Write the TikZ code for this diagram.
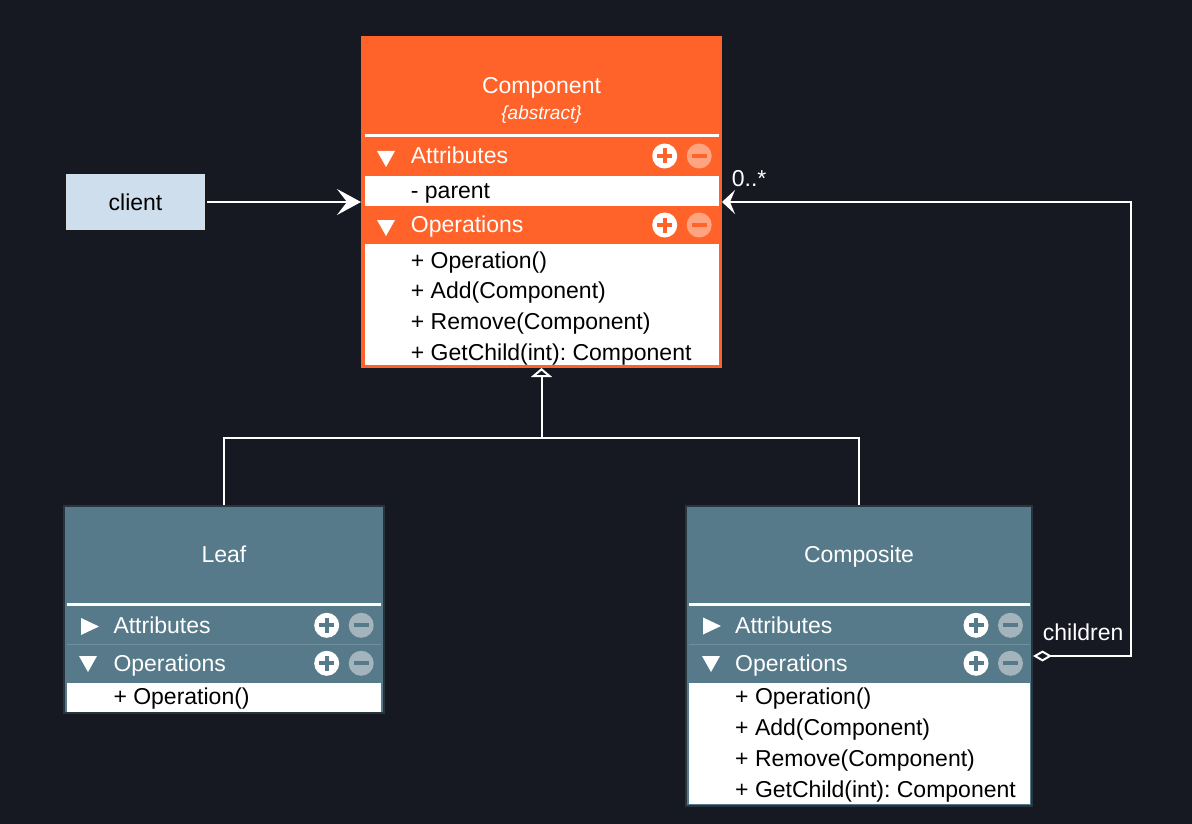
\documentclass[tikz,border=0pt]{standalone}
\usepackage{fontspec}
\setmainfont{Liberation Sans}
\usetikzlibrary{arrows.meta}
\frenchspacing

\definecolor{bgdark}{RGB}{22,25,34}
\definecolor{orangehead}{RGB}{255,99,41}
\definecolor{orangeheadlight}{RGB}{255,164,128}
\definecolor{steel}{RGB}{87,122,138}
\definecolor{steellight}{RGB}{163,180,189}
\definecolor{steelline}{RGB}{112,143,157}
\definecolor{steelborder}{RGB}{40,52,62}
\definecolor{clientblue}{RGB}{207,222,236}

% plus / minus buttons: x, y, colour
\newcommand{\addremove}[3]{%
  \fill[white] (#1,#2) circle (12.5pt);
  \fill[#3] (#1-7.5,#2-2) rectangle (#1+7.5,#2+2);
  \fill[#3] (#1-2,#2-7.5) rectangle (#1+2,#2+7.5);
  \fill[#3light] (#1+34.5,#2) circle (12.5pt);
  \fill[#3] (#1+27,#2-2) rectangle (#1+42,#2+2);
}
% collapse triangles: x, y
\newcommand{\arrowdown}[2]{\fill[white] (#1-9,#2-8) -- (#1+9,#2-8) -- (#1,#2+8) -- cycle;}
\newcommand{\arrowright}[2]{\fill[white] (#1-9,#2-8.5) -- (#1-9,#2+8.5) -- (#1+9,#2) -- cycle;}

\begin{document}
\begin{tikzpicture}[x=1pt, y=-1pt,
    classbox/.style={rectangle, inner sep=0pt, line width=2pt},
    headtext/.style={anchor=base, inner sep=0pt, text=white, font=\fontsize{23}{27}\selectfont},
    rowtext/.style={anchor=base west, inner sep=0pt, text=white, font=\fontsize{23}{27}\selectfont},
    membertext/.style={anchor=base west, inner sep=0pt, text=black, font=\fontsize{23}{27}\selectfont},
    link/.style={draw=white, line width=2pt}]
    % Draw the dark background
    \fill[bgdark] (0,0) rectangle (1192,824);
    \useasboundingbox (0,0) rectangle (1192,824);

    % Component class
    \node[classbox, fill=orangehead, draw=orangehead, minimum width=359pt, minimum height=330pt] (component) at (541.5,202) {};
    \node[headtext] (componentname) at (541.5,94) {Component};
    \node[headtext, font=\fontsize{19}{23}\selectfont\itshape] (componentabstract) at (541.5,120) {\{abstract\}};
    \fill[white] (365,134.5) rectangle (718.5,137.5);
    \arrowdown{386}{159}
    \node[rowtext] (compattr) at (410.7,163.5) {Attributes};
    \addremove{664.7}{156}{orangehead}
    \fill[white] (365,176) rectangle (718.5,206);
    \node[membertext] (compparent) at (410.7,198) {- parent};
    \arrowdown{386}{228}
    \node[rowtext] (compops) at (410.7,232.5) {Operations};
    \addremove{664.7}{225}{orangehead}
    \fill[white] (365,243.5) rectangle (718.5,365);
    \foreach \op [count=\i from 0] in {{+ Operation()}, {+ Add(Component)}, {+ Remove(Component)}, {+ GetChild(int): Component}}
        \node[membertext] (compop\i) at (410.7,268+30.7*\i) {\op};

    % Client
    \node[classbox, fill=clientblue, draw=black!90, line width=1.5pt, minimum width=141pt, minimum height=57pt,
        font=\fontsize{23}{27}\selectfont] (client) at (135.5,202) {client};

    % Leaf class
    \node[classbox, fill=steel, draw=steelborder, minimum width=320pt, minimum height=207pt] (leaf) at (224,609.5) {};
    \node[headtext] (leafname) at (224,562) {Leaf};
    \fill[white] (66.7,603.3) rectangle (380.7,606);
    \arrowright{90}{626.5}
    \node[rowtext] (leafattr) at (113.3,633) {Attributes};
    \addremove{326.7}{625.3}{steel}
    \draw[steelline, line width=1pt] (66.7,644.5) -- (380.7,644.5);
    \arrowdown{88}{664}
    \node[rowtext] (leafops) at (113.3,671) {Operations};
    \addremove{326.7}{663.3}{steel}
    \fill[white] (66.7,683) rectangle (380.7,711.7);
    \node[membertext] (leafop0) at (113.3,704) {+ Operation()};

    % Composite class
    \node[classbox, fill=steel, draw=steelborder, minimum width=346pt, minimum height=300pt] (composite) at (859,656) {};
    \node[headtext] (compositename) at (859,562) {Composite};
    \fill[white] (689,603.3) rectangle (1030,606);
    \arrowright{712}{626}
    \node[rowtext] (compositeattr) at (735,633) {Attributes};
    \addremove{976}{625.3}{steel}
    \draw[steelline, line width=1pt] (689,644.5) -- (1030,644.5);
    \arrowdown{711}{664}
    \node[rowtext] (compositeops) at (735,671) {Operations};
    \addremove{976}{663.3}{steel}
    \fill[white] (689,683) rectangle (1030,804);
    \foreach \op [count=\i from 0] in {{+ Operation()}, {+ Add(Component)}, {+ Remove(Component)}, {+ GetChild(int): Component}}
        \node[membertext] (compositeop\i) at (735,704+31*\i) {\op};

    % Draw the connectors
    \draw[link, -{Stealth[length=24pt, width=26pt, inset=10pt, white]}] (client.east) -- (component.west);
    \coordinate (join) at (component.south |- 0,437.5);
    \draw[link] (leaf.north) |- (join) -| (composite.north);
    \draw[link, -{Triangle[open, length=9pt, width=21pt, fill=bgdark]}] (join) -- (component.south);
    \draw[link, {Diamond[open, length=19pt, width=11pt, fill=bgdark]}-{Stealth[length=13pt, width=24pt, inset=5pt, white]}]
        (composite.east) -- ++(98,0) |- (component.east);

    % Multiplicity and role labels
    \node[rowtext] (multiplicity) at (731.7,186.7) {0..*};
    \node[rowtext] (rolename) at (1042.7,640.7) {children};
\end{tikzpicture}
\end{document}
